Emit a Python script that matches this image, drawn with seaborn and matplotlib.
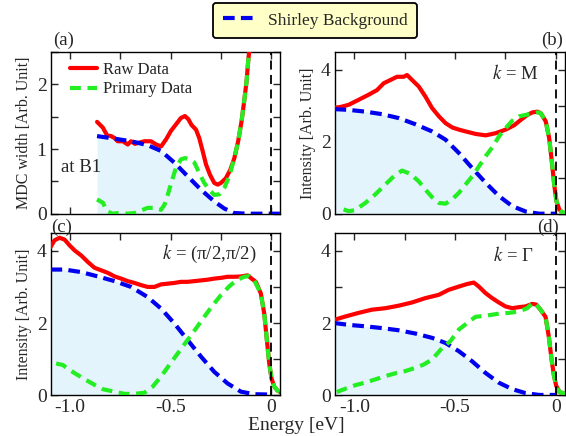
import numpy as np
import pandas as pd
import matplotlib
matplotlib.use("Agg")
import matplotlib.pyplot as plt
import seaborn as sns
from matplotlib.ticker import FixedLocator, FixedFormatter, MultipleLocator
from matplotlib.lines import Line2D

sns.set_theme(style="ticks")
plt.rcParams['font.family'] = ['Liberation Serif', 'DejaVu Serif']
plt.rcParams['mathtext.fontset'] = 'stix'
plt.rcParams['axes.unicode_minus'] = False

# ---------------- data ----------------
# Panel (a) MDC width at B1
a_raw_x = [-0.866, -0.837, -0.816, -0.796, -0.779, -0.763, -0.738, -0.713, -0.697, -0.677, -0.655,
           -0.630, -0.597, -0.572, -0.547, -0.522, -0.498, -0.473, -0.448, -0.428, -0.411, -0.395,
           -0.373, -0.357, -0.340, -0.323, -0.303, -0.282, -0.265, -0.249, -0.224, -0.202, -0.182,
           -0.163, -0.146, -0.133, -0.121, -0.113, -0.105]
a_raw_y = [1.42, 1.33, 1.21, 1.20, 1.17, 1.12, 1.12, 1.07, 1.12, 1.08, 1.10,
           1.12, 1.12, 1.07, 1.04, 1.15, 1.28, 1.38, 1.48, 1.51, 1.46, 1.37,
           1.30, 1.17, 0.97, 0.76, 0.60, 0.475, 0.45, 0.475, 0.55, 0.68, 0.86,
           1.12, 1.43, 1.74, 2.05, 2.36, 2.60]
a_pri_x = [-0.866, -0.837, -0.816, -0.791, -0.758, -0.713, -0.680, -0.647, -0.614, -0.580, -0.547,
           -0.530, -0.514, -0.494, -0.473, -0.448, -0.428, -0.406, -0.381, -0.357, -0.332, -0.307,
           -0.282, -0.257, -0.232, -0.207, -0.182, -0.163, -0.146, -0.133, -0.121, -0.113, -0.105]
a_pri_y = [0.22, 0.17, 0.04, 0.00, 0.01, 0.00, 0.01, 0.05, 0.09, 0.09, 0.06,
           0.14, 0.29, 0.50, 0.71, 0.84, 0.86, 0.84, 0.79, 0.63, 0.475, 0.37,
           0.29, 0.30, 0.40, 0.58, 0.86, 1.12, 1.43, 1.74, 2.05, 2.36, 2.60]
a_bg_x = [-0.866, -0.779, -0.697, -0.614, -0.547, -0.481, -0.415, -0.348, -0.282, -0.232, -0.182,
          -0.116, 0.0, 0.045]
a_bg_y = [1.20, 1.16, 1.12, 1.06, 0.97, 0.79, 0.58, 0.37, 0.19, 0.08, 0.01,
          0.0, 0.0, 0.0]

# Panel (b) k = M
b_raw_x = [-1.098, -1.061, -1.028, -0.978, -0.929, -0.887, -0.854, -0.821, -0.788, -0.755, -0.738,
           -0.713, -0.680, -0.647, -0.614, -0.580, -0.547, -0.514, -0.481, -0.448, -0.398, -0.348,
           -0.299, -0.249, -0.207, -0.174, -0.141, -0.116, -0.091, -0.075, -0.050, -0.033, -0.020,
           -0.008, 0.003, 0.017, 0.033, 0.050]
b_raw_y = [2.94, 2.98, 3.03, 3.17, 3.31, 3.44, 3.63, 3.72, 3.81, 3.81, 3.86,
           3.72, 3.54, 3.26, 2.94, 2.71, 2.52, 2.40, 2.34, 2.29, 2.22, 2.18,
           2.24, 2.34, 2.46, 2.61, 2.75, 2.82, 2.84, 2.80, 2.57, 2.10, 1.46,
           0.81, 0.35, 0.12, 0.03, 0.01]
b_pri_x = [-1.053, -1.028, -0.995, -0.945, -0.895, -0.846, -0.804, -0.763, -0.722, -0.680, -0.647,
           -0.614, -0.580, -0.547, -0.514, -0.481, -0.448, -0.415, -0.381, -0.348, -0.315, -0.282,
           -0.249, -0.216, -0.182, -0.149, -0.116, -0.091, -0.075, -0.050, -0.033, -0.020,
           -0.008, 0.003, 0.017, 0.033, 0.050]
b_pri_y = [0.12, 0.07, 0.10, 0.30, 0.54, 0.81, 1.04, 1.20, 1.11, 0.90, 0.67,
           0.46, 0.30, 0.28, 0.40, 0.58, 0.81, 1.04, 1.32, 1.60, 1.85, 2.15,
           2.38, 2.59, 2.71, 2.75, 2.78, 2.82, 2.80, 2.57, 2.10, 1.46,
           0.81, 0.35, 0.12, 0.03, 0.01]
b_bg_x = [-1.098, -1.028, -0.945, -0.862, -0.779, -0.697, -0.614, -0.547, -0.481, -0.415, -0.348,
          -0.282, -0.216, -0.149, -0.083, 0.0]
b_bg_y = [2.91, 2.89, 2.84, 2.77, 2.66, 2.49, 2.29, 2.06, 1.69, 1.27, 0.86,
          0.49, 0.21, 0.06, 0.0, 0.0]

# Panel (c) k = (pi/2, pi/2)
c_raw_x = [-1.098, -1.078, -1.053, -1.028, -1.003, -0.978, -0.945, -0.912, -0.879, -0.846, -0.813,
           -0.779, -0.746, -0.713, -0.680, -0.647, -0.614, -0.580, -0.547, -0.514, -0.481, -0.448,
           -0.415, -0.381, -0.348, -0.315, -0.282, -0.249, -0.216, -0.182, -0.149, -0.116, -0.096,
           -0.075, -0.050, -0.033, -0.020, -0.008, 0.003, 0.017, 0.033, 0.050]
c_raw_y = [4.10, 4.29, 4.36, 4.31, 4.15, 4.01, 3.87, 3.69, 3.53, 3.46, 3.39,
           3.29, 3.23, 3.16, 3.11, 3.05, 3.00, 3.00, 3.07, 3.09, 3.11, 3.14,
           3.14, 3.16, 3.18, 3.20, 3.23, 3.25, 3.28, 3.28, 3.29, 3.32, 3.23,
           3.14, 2.82, 2.26, 1.53, 0.88, 0.47, 0.24, 0.13, 0.08]
c_pri_x = [-1.070, -1.037, -1.003, -0.962, -0.920, -0.879, -0.838, -0.779, -0.730, -0.680, -0.630,
           -0.589, -0.547, -0.506, -0.464, -0.415, -0.373, -0.332, -0.290, -0.249, -0.207, -0.166,
           -0.133, -0.108, -0.083, -0.050, -0.033, -0.020, -0.008, 0.003, 0.017, 0.033, 0.050]
c_pri_y = [0.88, 0.84, 0.70, 0.56, 0.42, 0.29, 0.17, 0.10, 0.04, 0.04, 0.07,
           0.24, 0.52, 0.84, 1.16, 1.53, 1.85, 2.17, 2.49, 2.77, 3.02, 3.20,
           3.28, 3.30, 3.18, 2.82, 2.26, 1.53, 0.88, 0.47, 0.24, 0.13, 0.08]
c_bg_x = [-1.098, -1.028, -0.945, -0.862, -0.779, -0.697, -0.614, -0.547, -0.481, -0.415, -0.348,
          -0.282, -0.216, -0.149, -0.083, 0.0]
c_bg_y = [3.48, 3.48, 3.41, 3.29, 3.16, 3.00, 2.72, 2.40, 1.99, 1.53, 1.07,
          0.65, 0.33, 0.10, 0.03, 0.02]

# Panel (d) k = Gamma
d_raw_x = [-1.098, -1.045, -0.979, -0.912, -0.846, -0.780, -0.713, -0.647, -0.581, -0.531, -0.481,
           -0.440, -0.407, -0.382, -0.349, -0.316, -0.283, -0.250, -0.216, -0.183, -0.150, -0.117,
           -0.097, -0.076, -0.051, -0.035, -0.021, -0.009, 0.002, 0.019, 0.049]
d_raw_y = [2.09, 2.18, 2.28, 2.37, 2.41, 2.48, 2.57, 2.69, 2.78, 2.92, 3.01,
           3.08, 3.12, 3.01, 2.83, 2.69, 2.57, 2.46, 2.41, 2.44, 2.46, 2.53,
           2.51, 2.37, 2.17, 1.63, 0.99, 0.53, 0.26, 0.09, 0.03]
d_pri_x = [-1.087, -1.045, -0.995, -0.946, -0.896, -0.846, -0.796, -0.747, -0.697, -0.656, -0.614,
           -0.564, -0.523, -0.481, -0.440, -0.399, -0.357, -0.316, -0.283, -0.233, -0.183, -0.142,
           -0.112, -0.097, -0.076, -0.051, -0.035, -0.021, -0.009, 0.002, 0.019, 0.049]
d_pri_y = [0.09, 0.18, 0.28, 0.35, 0.44, 0.53, 0.61, 0.67, 0.76, 0.85, 0.99,
           1.31, 1.50, 1.82, 2.00, 2.17, 2.20, 2.23, 2.26, 2.28, 2.32, 2.41,
           2.57, 2.51, 2.37, 2.17, 1.63, 0.99, 0.53, 0.26, 0.09, 0.03]
d_bg_x = [-1.098, -1.029, -0.946, -0.863, -0.780, -0.697, -0.614, -0.548, -0.481, -0.415, -0.349,
          -0.283, -0.216, -0.150, -0.083, 0.0]
d_bg_y = [2.00, 1.95, 1.91, 1.86, 1.80, 1.71, 1.59, 1.45, 1.22, 0.94, 0.62,
          0.35, 0.17, 0.06, 0.01, 0.01]

panel_labels = ["(a)", "(b)", "(c)", "(d)"]
k_labels = ["at B1", "$k$ = M", "$k$ = (π/2,π/2)", "$k$ = Γ"]
ylabels = ["MDC width [Arb. Unit]", "Intensity [Arb. Unit]", "Intensity [Arb. Unit]", ""]
x_ticks = [-1.0, -0.5, 0.0]
x_ticklabels = ["-1.0", "-0.5", "0"]

RED = "#ff0000"
GREEN = "#22ee22"
BLUE = "#0000ee"
FILL = "#e3f4fc"

fig = plt.figure(figsize=(5.66, 4.36), dpi=100)
W, H = 566, 436
def add_ax(l, t, r, b):
    return fig.add_axes([l / W, 1 - b / H, (r - l) / W, (b - t) / H])

axes = [add_ax(50.7, 52, 280.3, 213.7), add_ax(334.7, 52, 565.3, 213.7),
        add_ax(50.7, 232.7, 280.3, 395.3), add_ax(334.7, 232.7, 565.3, 395.3)]

panels = [
    (a_raw_x, a_raw_y, a_pri_x, a_pri_y, a_bg_x, a_bg_y, 2.5, 1, 0.5),
    (b_raw_x, b_raw_y, b_pri_x, b_pri_y, b_bg_x, b_bg_y, 4.5, 2, 1),
    (c_raw_x, c_raw_y, c_pri_x, c_pri_y, c_bg_x, c_bg_y, 4.5, 2, 1),
    (d_raw_x, d_raw_y, d_pri_x, d_pri_y, d_bg_x, d_bg_y, 4.5, 2, 1),
]

dash_g = (0, (2.6, 1.6))
dash_b = (0, (2.8, 1.5))

for i, (ax, p) in enumerate(zip(axes, panels)):
    rx, ry, px, py, bx, by, ymax, ymaj, ymin = p
    ax.fill_between(bx, 0, by, color=FILL, lw=0, zorder=1)
    raw = pd.DataFrame({"x": rx, "y": ry})
    pri = pd.DataFrame({"x": px, "y": py})
    bg = pd.DataFrame({"x": bx, "y": by})
    sns.lineplot(data=raw, x="x", y="y", ax=ax, color=RED, lw=3, sort=False,
                 label="Raw Data", zorder=3, legend=False)
    sns.lineplot(data=bg, x="x", y="y", ax=ax, color=BLUE, lw=3, sort=False,
                 linestyle=dash_b, zorder=4, legend=False)
    sns.lineplot(data=pri, x="x", y="y", ax=ax, color=GREEN, lw=3, sort=False,
                 linestyle=dash_g, label="Primary Data", zorder=5, legend=False)
    ax.axvline(0.0, color="black", lw=1.3, linestyle=(0, (5, 3)), zorder=6)
    ax.set_xlim(-1.097, 0.047)
    ax.set_ylim(0, ymax)
    ax.xaxis.set_major_locator(FixedLocator(x_ticks))
    ax.xaxis.set_minor_locator(MultipleLocator(0.25))
    ax.yaxis.set_major_locator(MultipleLocator(ymaj))
    ax.yaxis.set_minor_locator(MultipleLocator(ymin))
    ax.tick_params(which="both", direction="in", top=True, right=True, width=1,
                   labelsize=14, pad=3)
    ax.tick_params(which="major", length=5)
    ax.tick_params(which="minor", length=5)
    if i < 2:
        ax.set_xticklabels([])
    else:
        ax.xaxis.set_major_formatter(FixedFormatter(x_ticklabels))
    ax.set_xlabel("")
    ax.set_ylabel(ylabels[i], fontsize=11.5, labelpad=3)
    for s in ax.spines.values():
        s.set_linewidth(1)
        s.set_color("black")

# panel labels
for (xf, yf), lab in zip([(64, 40), (552, 40), (62, 227), (548, 227)], panel_labels):
    fig.text(xf / W, 1 - yf / H, lab, ha="center", va="center", fontsize=13.5)

# k labels
axes[0].text(0.045, 0.286, k_labels[0], transform=axes[0].transAxes, ha="left", va="center", fontsize=13.5)
axes[1].text(0.885, 0.865, k_labels[1], transform=axes[1].transAxes, ha="right", va="center", fontsize=13.5)
axes[2].text(0.898, 0.869, k_labels[2], transform=axes[2].transAxes, ha="right", va="center", fontsize=13.5)
axes[3].text(0.864, 0.857, k_labels[3], transform=axes[3].transAxes, ha="right", va="center", fontsize=13.5)

# legend in (a)
h, l = axes[0].get_legend_handles_labels()
axes[0].legend(h, l, loc="upper left", bbox_to_anchor=(0.035, 1.01), frameon=False,
               fontsize=12, handlelength=1.6, handletextpad=0.35, labelspacing=0.2,
               borderaxespad=0.3)

# figure legend for Shirley background
sh = Line2D([], [], color=BLUE, lw=3, linestyle=dash_b)
leg = fig.legend([sh], ["Shirley Background"], loc="center", bbox_to_anchor=(315 / W, 1 - 20.5 / H),
                 fontsize=12.5, frameon=True, fancybox=True, handlelength=2.0, handletextpad=0.6,
                 borderpad=0.55)
fr = leg.get_frame()
fr.set_facecolor("#ffffc8")
fr.set_edgecolor("black")
fr.set_linewidth(1.3)
fr.set_alpha(1)

fig.text(296 / W, 1 - 425 / H, "Energy [eV]", ha="center", va="center", fontsize=14)

fig.savefig("out.png", dpi=100)
